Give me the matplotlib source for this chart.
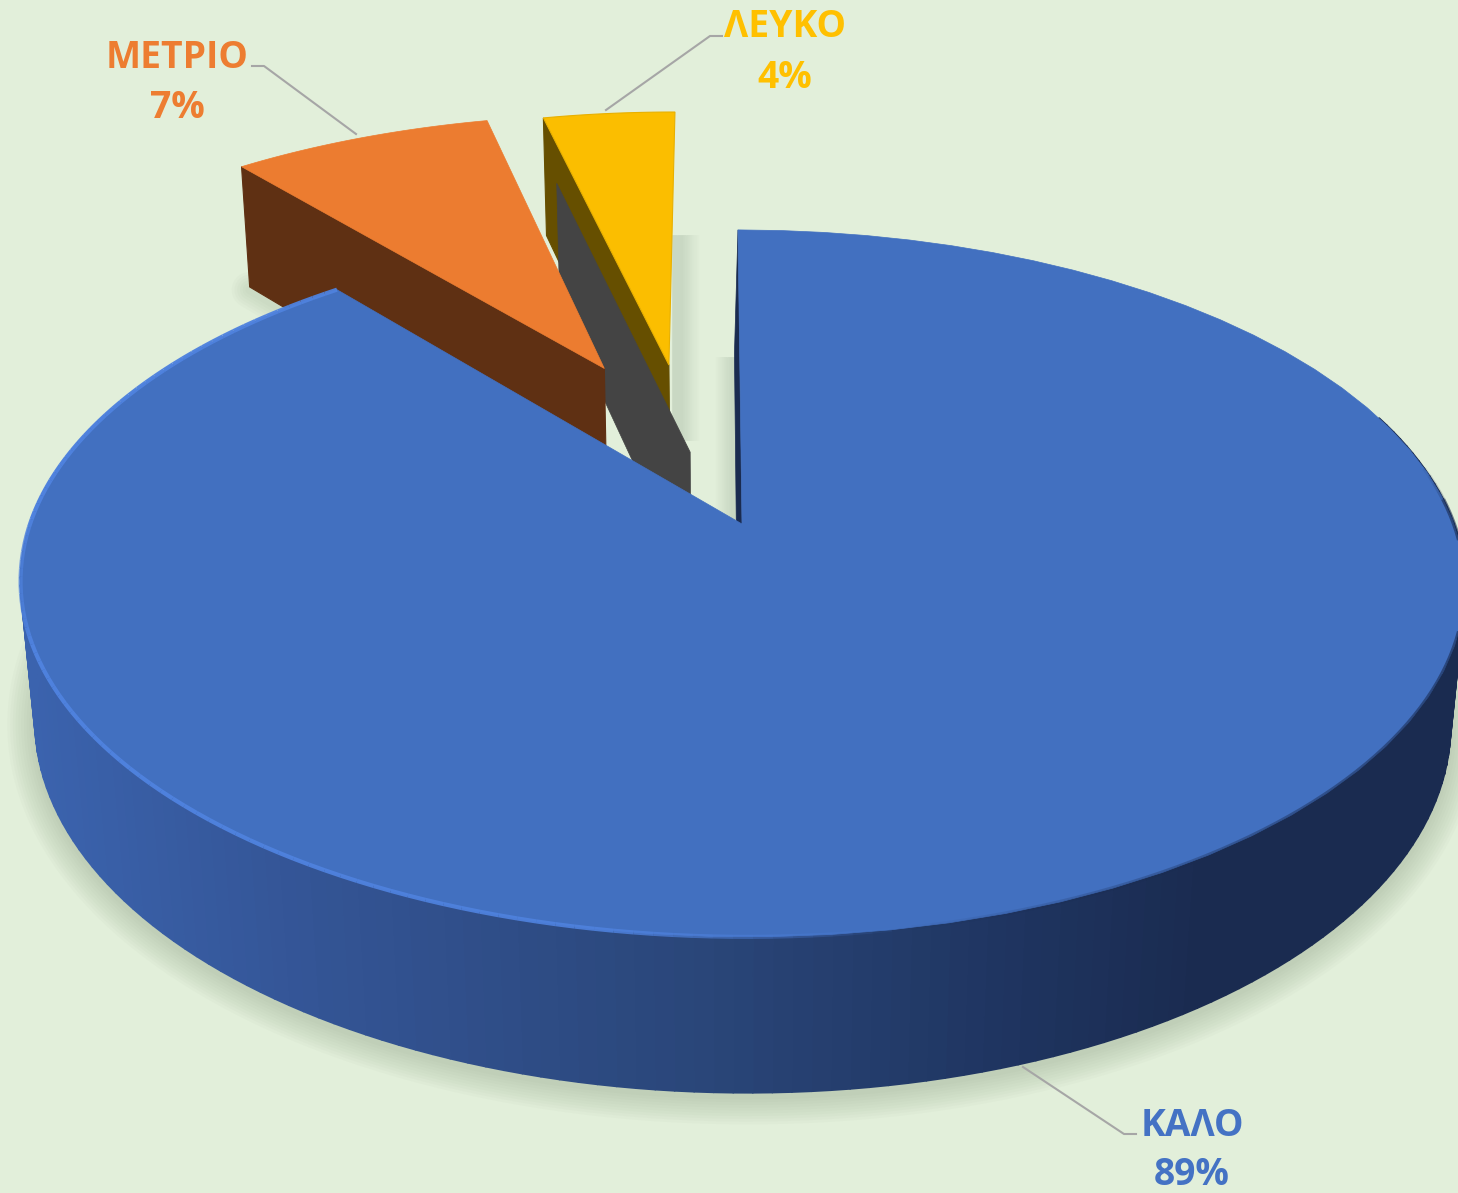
import numpy as np
import matplotlib
matplotlib.use('Agg')
import matplotlib.pyplot as plt
from matplotlib.collections import PolyCollection, LineCollection
from matplotlib.colors import to_rgb
from matplotlib.patches import Polygon

# Data
names = ['ΚΑΛΟ', 'ΜΕΤΡΙΟ', '', 'ΛΕΥΚΟ']
values = [89.0, 7.3, 0.0, 3.7]
top_colors = ['#4270c0', '#ec7c30', '#404040', '#fbbe00']
side_colors = ['#1a2b50', '#5f3013', '#444444', '#664f00']
text_colors = ['#4472c4', '#ed7d31', '#404040', '#ffc000']

# explode offset of each slice on the disc plane (u sideways, v to the back)
explode_u = [0.0, -0.206, -0.074, -0.108]
explode_v = [0.0, 0.49, 0.217, 0.502]

# perspective set-up, worked out from the picture, in pixels
CX, CY = 742, 524
F, G, K = 712, 343.5, 0.168
TILT = -4.7
DEPTH, DEPTH_W = 141, 0.02
BG = '#e2efda'
SHADE = '#c9d8c3'


def proj(u, v, z=0):
    w = 1 + K * np.asarray(v) + DEPTH_W * z
    return CX + (F * np.asarray(u) + TILT * np.asarray(v)) / w, CY - (G * np.asarray(v) - DEPTH * z) / w


def pts(u, v, z=0):
    x, y = proj(u, v, z)
    return np.column_stack([x, y])


def slice_top(i, a0, a1):
    th = np.radians(np.linspace(a0, a1, 80))
    u = np.r_[0, np.sin(th)] + explode_u[i]
    v = np.r_[0, np.cos(th)] + explode_v[i]
    return pts(u, v)


def radial_wall(i, a):
    s, c = np.sin(np.radians(a)), np.cos(np.radians(a))
    u = np.array([s, 0, 0, s]) + explode_u[i]
    v = np.array([c, 0, 0, c]) + explode_v[i]
    z = np.array([0, 0, 1, 1])
    return pts(u, v, z)


def soft_shadow(ax, xy, top=40, color='#7f9277'):
    for lw in np.arange(top, 2, -4):
        ax.plot(xy[:, 0], xy[:, 1], color=color, lw=lw, alpha=0.035, solid_capstyle='round',
                solid_joinstyle='round', zorder=2)


def edge_shadow(ax, x_flat, x_end, y0, y1):
    # flat shade from x_flat, fading to the background at x_end
    xs = np.linspace(x_flat, x_end, 26)
    bg, sh = np.array(to_rgb(BG)), np.array(to_rgb(SHADE))
    t = np.clip(np.linspace(-0.6, 1, 25), 0, 1)[:, None]
    cols = sh + (bg - sh) * t
    quads = [[(xs[j], y0), (xs[j + 1], y0), (xs[j + 1], y1), (xs[j], y1)] for j in range(25)]
    ax.add_collection(PolyCollection(quads, facecolors=cols, edgecolors=cols, linewidths=0.4, zorder=1))


fig = plt.figure(figsize=(14.58, 11.93), dpi=100, facecolor=BG)
ax = fig.add_axes([0, 0, 1, 1])
ax.set_facecolor(BG)

# angles, clockwise from the back of the disc
ang = np.r_[0, np.cumsum(values) * 3.6]

# shadows on the background
edge_shadow(ax, 672, 700, 235, 440)
edge_shadow(ax, 740, 714, 357, 522)
th = np.radians(np.linspace(75, 300, 300))
base = pts(np.sin(th), np.cos(th), 1) + [0, 4]
soft_shadow(ax, base)
om_base = radial_wall(1, ang[1])[[3, 2]]
om_base = om_base[0] + (om_base[1] - om_base[0]) * np.array([[0.0], [0.2]]) + [0, 3]
soft_shadow(ax, om_base, top=26)

# yellow, then the empty grey slice, then orange
ax.add_patch(Polygon(radial_wall(3, ang[3]), fc=side_colors[3], ec=side_colors[3], lw=0.8, zorder=2))
ax.add_patch(Polygon(slice_top(3, ang[3], ang[4]), fc=top_colors[3], ec='#e8b000', lw=0.8, zorder=2))
ax.add_patch(Polygon(radial_wall(2, ang[2]), fc=side_colors[2], ec=side_colors[2], lw=0.5, zorder=2))
ax.add_patch(Polygon(radial_wall(1, ang[1]), fc=side_colors[1], ec=side_colors[1], lw=0.8, zorder=2))
ax.add_patch(Polygon(slice_top(1, ang[1], ang[2]), fc=top_colors[1], ec=top_colors[1], lw=0.5, zorder=2))

# sliver of the main slice's wall next to the gap
sliver = np.vstack([pts(np.array([0, 0]), np.array([1, 0])), pts(np.array([-0.006, -0.006]), np.array([0, 1]), 1)])
ax.add_patch(Polygon(sliver, fc=side_colors[0], ec=side_colors[0], lw=0.5, zorder=2))

# main slice outer wall, shaded in strips (only the part that faces the viewer)
th = np.radians(np.linspace(ang[0], ang[1], 240))
top = pts(np.sin(th), np.cos(th))
bot = pts(np.sin(th), np.cos(th), 1)
quads = [np.array([top[j], top[j + 1], bot[j + 1], bot[j]]) for j in range(len(th) - 1)]
mx = np.array([q[:, 0].mean() for q in quads])
stops_x = [30, 300, 700, 1000, 1200, 1460]
stops_c = np.array([to_rgb(c) for c in ['#3b63ae', '#345596', '#2a4679', '#1f3561', '#1a2b50', '#1a2b50']])
cols = np.column_stack([np.interp(mx, stops_x, stops_c[:, k]) for k in range(3)])
deg = np.degrees(th[:-1])
front = np.where((deg > 70) & (deg < 290))[0]
ax.add_collection(PolyCollection([quads[j] for j in front], facecolors=cols[front], edgecolors=cols[front],
                                 linewidths=1.4, zorder=2))

# main slice top
ax.add_patch(Polygon(slice_top(0, ang[0], ang[1]), fc=top_colors[0], ec=top_colors[0], lw=0.5, zorder=2))

# bevel along the rim: light on the left, dark on the right
segs = np.stack([top[:-1], top[1:]], axis=1)
light = np.array(to_rgb('#4f82de'))
dark = np.array(to_rgb(side_colors[0]))
rim = np.zeros((len(segs), 4))
rim[:, :3] = np.where((mx < 900)[:, None], light, dark)
rim[:, 3] = np.where(mx < 900,
                     np.interp(mx, [20, 40, 600, 900], [0.5, 1, 0.9, 0]),
                     np.interp(mx, [900, 1150, 1440], [0, 0.3, 0.6]))
back = deg < 85
rim[back, 3] = np.interp(mx[back], [1415, 1455], [0, 0.5])
ax.add_collection(LineCollection(segs, colors=rim, linewidths=3.0, zorder=2))

# labels and leader lines
label_x = [1192, 177, None, 785]
label_y = [1126, 58, None, 27]
pct_y = [1175, 108, None, 78]
leaders = [[(1136, 1134), (1124, 1134), (1023, 1067)], [(252, 66), (264, 66), (356, 134)], None,
           [(722, 36), (710, 36), (606, 110)]]
for i, n in enumerate(names):
    if not n:
        continue
    ax.text(label_x[i], label_y[i], n, color=text_colors[i], fontsize=26.8, fontweight='bold',
            family='Open Sans', ha='center', va='center', zorder=4)
    ax.text(label_x[i], pct_y[i], f'{values[i]:.0f}%', color=text_colors[i], fontsize=26.8, fontweight='bold',
            family='Open Sans', ha='center', va='center', zorder=4)
    lx, ly = zip(*leaders[i])
    ax.plot(lx, ly, color='#a6a6a6', lw=1.5, zorder=3)

ax.set_xlim(0, 1458)
ax.set_ylim(1193, 0)
ax.axis('off')
fig.savefig('out.png', dpi=100, facecolor=BG)
